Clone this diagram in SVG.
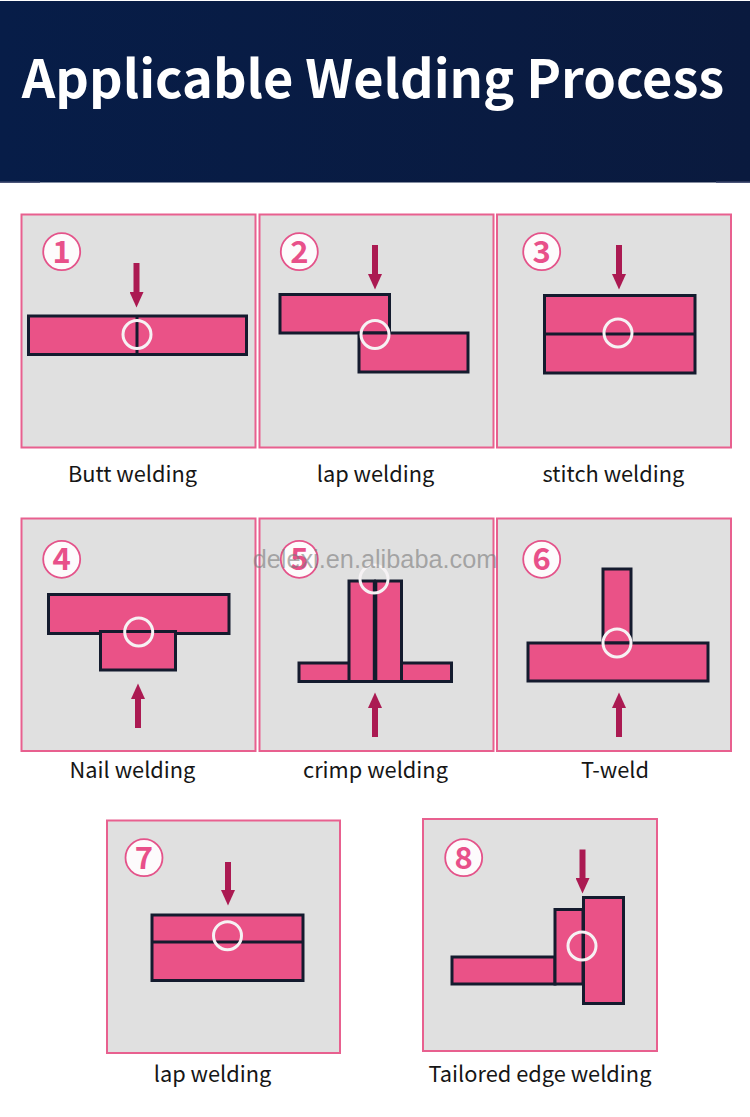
<svg xmlns="http://www.w3.org/2000/svg" width="750" height="1117" viewBox="0 0 750 1117">
<defs>
<linearGradient id="hdr" x1="0" x2="1" y1="0" y2="0"><stop offset="0" stop-color="#071d48"/><stop offset="1" stop-color="#0a1a3e"/></linearGradient>
<marker id="head" markerUnits="userSpaceOnUse" markerWidth="16" markerHeight="14" refX="0" refY="7" orient="auto"><path d="M0 0L15.500 7L0 14Z" fill="#ab1a52"/></marker>
</defs>
<style>
text{font-family:"Noto Sans CJK SC","Noto Sans",sans-serif}
.panel{fill:#e0e0e0;stroke:#e8608f;stroke-width:2}
.plate{fill:#ea5287;stroke:#141b2e;stroke-width:3}
.seam{fill:none;stroke:#141b2e;stroke-width:3}
.weld{fill:none;stroke:#f6f2f4;stroke-width:3}
.badge{fill:#fdfbfc;stroke:#e4538a;stroke-width:1.800}
.num{font-size:31px;font-weight:700;fill:#e8508a;text-anchor:middle}
.label{font-size:21.800px;fill:#161616;text-anchor:middle}
.arrow{stroke:#ab1a52;stroke-width:6;fill:none;marker-end:url(#head)}
</style>
<rect width="750" height="1117" fill="#fff"/>
<g id="header">
<rect x="0" y="1" width="750" height="181.500" fill="url(#hdr)"/>
<rect x="0" y="181.500" width="40" height="1.500" fill="#4a5478"/>
<rect x="716" y="181.500" width="34" height="1.500" fill="#4a5478"/>
<text x="373" y="98" font-size="52.300" font-weight="700" fill="#fff" text-anchor="middle">Applicable Welding Process</text>
</g>
<g id="node-1">
<rect class="panel" x="21.500" y="214.500" width="234" height="233"/>
<rect class="plate" x="28.500" y="316" width="218" height="38.500"/>
<path class="seam" d="M137 316V354.500"/>
<circle class="weld" cx="137" cy="334.500" r="14"/>
<circle class="badge" cx="61.700" cy="251.700" r="18.500"/>
<text class="num" x="61.700" y="262.500">1</text>
<text class="label" x="132.500" y="481.500">Butt welding</text>
</g>
<g id="node-2">
<rect class="panel" x="259.500" y="214.500" width="234" height="233"/>
<rect class="plate" x="280" y="294.500" width="109.500" height="38.500"/>
<rect class="plate" x="359" y="333" width="109" height="39"/>
<circle class="weld" cx="375" cy="334.500" r="14"/>
<circle class="badge" cx="299.300" cy="251.700" r="18.500"/>
<text class="num" x="299.300" y="262.500">2</text>
<text class="label" x="375.500" y="481.500">lap welding</text>
</g>
<g id="node-3">
<rect class="panel" x="497" y="214.500" width="234" height="233"/>
<rect class="plate" x="544.500" y="295.500" width="150.500" height="77.500"/>
<path class="seam" d="M544.500 334H695"/>
<circle class="weld" cx="618" cy="333" r="14"/>
<circle class="badge" cx="541.700" cy="251.700" r="18.500"/>
<text class="num" x="541.700" y="262.500">3</text>
<text class="label" x="613.500" y="481.500">stitch welding</text>
</g>
<g id="node-4">
<rect class="panel" x="21.500" y="518.500" width="234" height="232.500"/>
<rect class="plate" x="48.500" y="594.500" width="180.500" height="39"/>
<rect class="plate" x="100.500" y="631.500" width="75" height="38.500"/>
<circle class="weld" cx="138.700" cy="632" r="14"/>
<circle class="badge" cx="61.700" cy="559.300" r="18.500"/>
<text class="num" x="61.700" y="570">4</text>
<text class="label" x="132.500" y="778">Nail welding</text>
</g>
<g id="node-5">
<rect class="panel" x="259.500" y="518.500" width="234" height="232.500"/>
<rect class="plate" x="299" y="663" width="152.500" height="18.500"/>
<rect class="plate" x="349" y="581" width="25.300" height="100.500"/>
<rect class="plate" x="375.800" y="581" width="25.700" height="100.500"/>
<circle class="weld" cx="374" cy="579" r="14"/>
<circle class="badge" cx="299.300" cy="559.300" r="18.500"/>
<text class="num" x="299.300" y="570">5</text>
<text class="label" x="375.500" y="778">crimp welding</text>
</g>
<g id="node-6">
<rect class="panel" x="497" y="518.500" width="234" height="232.500"/>
<rect class="plate" x="603" y="569" width="28" height="74"/>
<rect class="plate" x="528" y="643" width="180" height="38"/>
<circle class="weld" cx="617" cy="643" r="14"/>
<circle class="badge" cx="541.700" cy="559.300" r="18.500"/>
<text class="num" x="541.700" y="570">6</text>
<text class="label" x="615" y="778">T-weld</text>
</g>
<g id="node-7">
<rect class="panel" x="107" y="820.500" width="233" height="232.500"/>
<rect class="plate" x="152" y="915" width="151" height="65.500"/>
<path class="seam" d="M152 942H303"/>
<circle class="weld" cx="227.500" cy="935.700" r="14"/>
<circle class="badge" cx="144" cy="857.700" r="18.500"/>
<text class="num" x="144" y="868.500">7</text>
<text class="label" x="212.500" y="1081.500">lap welding</text>
</g>
<g id="node-8">
<rect class="panel" x="423" y="819" width="234" height="232"/>
<rect class="plate" x="452" y="957" width="103" height="27"/>
<rect class="plate" x="555" y="909.500" width="28" height="74.500"/>
<rect class="plate" x="583.500" y="897.500" width="40" height="106"/>
<circle class="weld" cx="582" cy="946" r="14"/>
<circle class="badge" cx="463.700" cy="857.700" r="18.500"/>
<text class="num" x="463.700" y="868.500">8</text>
<text class="label" x="540" y="1081.500">Tailored edge welding</text>
</g>
<g id="connectors">
<path class="arrow" d="M136.500 263V292"/>
<path class="arrow" d="M375 245V274"/>
<path class="arrow" d="M619 245V274"/>
<path class="arrow" d="M138 728V699"/>
<path class="arrow" d="M375 737V708"/>
<path class="arrow" d="M619 737V708"/>
<path class="arrow" d="M228 862V890"/>
<path class="arrow" d="M582.500 849.500V878"/>
</g>
<text id="watermark" x="375" y="568" font-size="25.300" fill="#7a7a7a" fill-opacity="0.6" text-anchor="middle" style="font-family:'Liberation Sans',Arial,sans-serif">delexi.en.alibaba.com</text>
</svg>
